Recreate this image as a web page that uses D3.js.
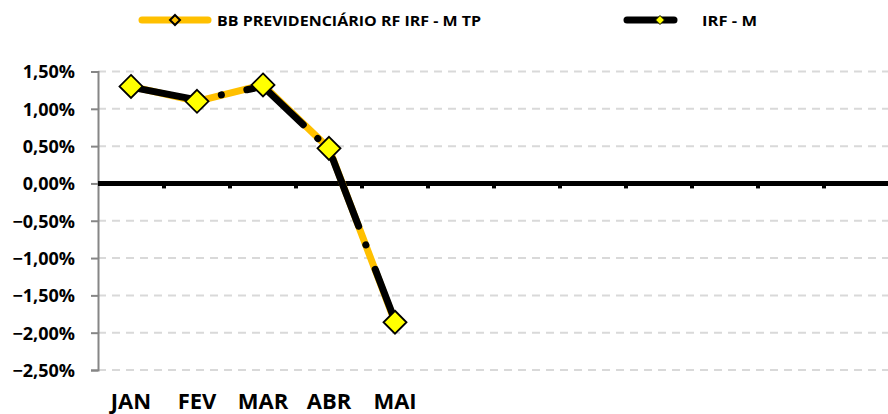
<!DOCTYPE html>
<html><head><meta charset="utf-8">
<script src="https://cdn.jsdelivr.net/npm/d3@7"></script>
<style>body{margin:0;background:#fff}svg{display:block}text{font-family:"Open Sans",sans-serif;font-weight:bold;fill:#000}</style>
</head><body><svg id="c" width="888" height="414"></svg>
<script>
const categories = ["JAN","FEV","MAR","ABR","MAI","JUN","JUL","AGO","SET","OUT","NOV","DEZ"];
const tickLabels = ["JAN","FEV","MAR","ABR","MAI","","","","","","",""];
const seriesNames = ["BB PREVIDENCIÁRIO RF IRF - M TP","IRF - M"];
const bbValues = [1.30, 1.10, 1.32, 0.47, -1.86];
const irfmValues = [1.29, 1.12, 1.30, 0.46, -1.84];
const yTicks = [1.5, 1.0, 0.5, 0.0, -0.5, -1.0, -1.5, -2.0, -2.5];

const svg = d3.select("#c");
const x = d3.scaleBand().domain(categories).range([98, 890]);
const y = d3.scaleLinear().domain([-2.5, 1.5]).range([370, 71.5]);
const fmt = v => d3.format(".2f")(v).replace(".", ",") + "%";

// gridlines
svg.append("g").selectAll("line").data(yTicks.filter(v => v !== 0)).join("line")
  .attr("x1", 98).attr("x2", 888).attr("y1", d => y(d)).attr("y2", d => y(d))
  .attr("stroke", "#d9d9d9").attr("stroke-width", 2).attr("stroke-dasharray", "8,6");

// y axis
const ya = svg.append("g").attr("transform", "translate(98,0)")
  .call(d3.axisLeft(y).tickValues(yTicks).tickFormat(fmt).tickSize(7).tickPadding(16));
ya.select(".domain").attr("stroke", "#868686").attr("stroke-width", 2);
ya.selectAll(".tick line").attr("stroke", "#868686").attr("stroke-width", 2);
ya.selectAll("text").style("font-size", "18px").style("font-family", "'Open Sans',sans-serif")
  .style("font-weight", "bold").attr("fill", "#000").attr("dy", "0.36em");

// x axis at zero
const xa = svg.append("g").attr("transform", `translate(0,${y(0)})`)
  .call(d3.axisBottom(x).tickFormat((d, i) => tickLabels[i]).tickSize(0).tickPadding(0));
xa.select(".domain").remove();
xa.selectAll(".tick line").remove();
xa.selectAll("text").attr("y", 226).attr("dy", 0)
  .style("font-size", "22px").style("font-family", "'Open Sans',sans-serif").style("font-weight", "bold").attr("fill", "#000");
svg.append("line").attr("x1", 98).attr("x2", 888).attr("y1", y(0)).attr("y2", y(0))
  .attr("stroke", "#000").attr("stroke-width", 5);
svg.append("g").selectAll("line").data(categories.slice(1)).join("line")
  .attr("x1", d => x(d)).attr("x2", d => x(d)).attr("y1", y(0)).attr("y2", y(0) + 5)
  .attr("stroke", "#000").attr("stroke-width", 4);

const cx = (d, i) => x(categories[i]) + x.bandwidth() / 2;
const line = d3.line().x(cx).y(d => y(d));

svg.append("path").datum(bbValues).attr("d", line).attr("fill", "none")
  .attr("stroke", "#FFC000").attr("stroke-width", 7).attr("stroke-linejoin", "round");
svg.append("path").datum(irfmValues).attr("d", line).attr("fill", "none")
  .attr("stroke", "#000").attr("stroke-width", 7).attr("stroke-linecap", "round")
  .attr("stroke-linejoin", "round").attr("stroke-dasharray", "72,20,0.1,26");

const diamond = (s) => `M0,${-s}L${s},0L0,${s}L${-s},0Z`;
svg.append("g").selectAll("path").data(irfmValues).join("path")
  .attr("transform", (d, i) => `translate(${cx(d, i)},${y(d)})`)
  .attr("d", diamond(4)).attr("fill", "#FFFF00").attr("stroke", "#000").attr("stroke-width", 1);
svg.append("g").selectAll("path").data(bbValues).join("path")
  .attr("transform", (d, i) => `translate(${cx(d, i)},${y(d)})`)
  .attr("d", diamond(11.5)).attr("fill", "#FFFF00").attr("stroke", "#000").attr("stroke-width", 1.8);

// legend
const lg = svg.append("g");
lg.append("line").attr("x1", 142).attr("x2", 208).attr("y1", 20).attr("y2", 20)
  .attr("stroke", "#FFC000").attr("stroke-width", 7).attr("stroke-linecap", "round");
lg.append("path").attr("transform", "translate(175,20)").attr("d", diamond(5))
  .attr("fill", "#FFC000").attr("stroke", "#000").attr("stroke-width", 2);
lg.append("text").attr("x", 217).attr("y", 25.5).text(seriesNames[0])
  .style("font-size", "15px").attr("textLength", 264).attr("lengthAdjust", "spacingAndGlyphs");
lg.append("line").attr("x1", 627).attr("x2", 674).attr("y1", 20).attr("y2", 20)
  .attr("stroke", "#000").attr("stroke-width", 7).attr("stroke-linecap", "round");
lg.append("path").attr("transform", "translate(660,20)").attr("d", diamond(4.5))
  .attr("fill", "#FFFF00").attr("stroke", "#000").attr("stroke-width", 1);
lg.append("text").attr("x", 702).attr("y", 25.5).text(seriesNames[1])
  .style("font-size", "15px").attr("textLength", 55).attr("lengthAdjust", "spacingAndGlyphs");
</script></body></html>
